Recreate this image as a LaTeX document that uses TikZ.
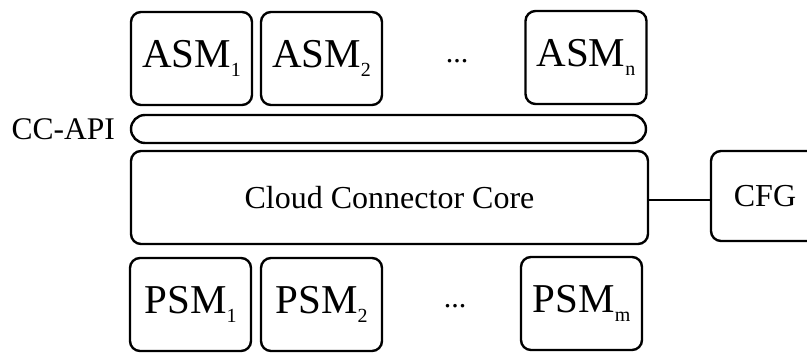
\documentclass[tikz,border=0pt]{standalone}
\usepackage{fontspec}
\setmainfont{Liberation Serif}
\newcommand{\subs}[1]{\raisebox{-9pt}{\fontsize{20}{20}\selectfont #1}}
\begin{document}
\begin{tikzpicture}[x=1pt,y=1pt,
  box/.style={draw, line width=2.4pt, rounded corners=10pt, inner sep=0pt, outer sep=0pt},
  modbox/.style={box, minimum width=121pt, minimum height=93pt, font=\fontsize{41}{41}\selectfont},
  big/.style={font=\fontsize{32}{32}\selectfont},
  conn/.style={line width=2.4pt}]
\useasboundingbox (0,0) rectangle (807,353);
\clip (0,0) rectangle (807,353);
\node[modbox] (asm1) at (191.5,294.5) {ASM\subs{1}};
\node[modbox] (asm2) at (321.5,294.5) {ASM\subs{2}};
\node[modbox] (asmn) at (586,295.5) {ASM\subs{n}};
\node[font=\fontsize{30}{30}\selectfont] (adots) at (457,292) {...};
\node[box, rounded corners=14pt, minimum width=515pt, minimum height=28pt] (api) at (388.5,224) {};
\node[font=\fontsize{31.5}{31.5}\selectfont, anchor=east, inner sep=0pt] (apilabel) at (115,224) {CC-API};
\node[box, big, minimum width=517pt, minimum height=93pt] (core) at (389.5,155.5) {Cloud Connector Core};
\node[box, minimum width=106pt, minimum height=90pt] (cfg) at (764,157) {};
\node[big] (cfgtext) at (765,157) {CFG};
\draw[conn] (core.east |- 0,153) -- (cfg.west |- 0,153);
\node[modbox] (psm1) at (190.5,48.5) {PSM\subs{1}};
\node[modbox] (psm2) at (321.5,48.5) {PSM\subs{2}};
\node[modbox] (psmm) at (581.5,49.5) {PSM\subs{m}};
\node[font=\fontsize{30}{30}\selectfont] (pdots) at (455,47) {...};
\end{tikzpicture}
\end{document}
